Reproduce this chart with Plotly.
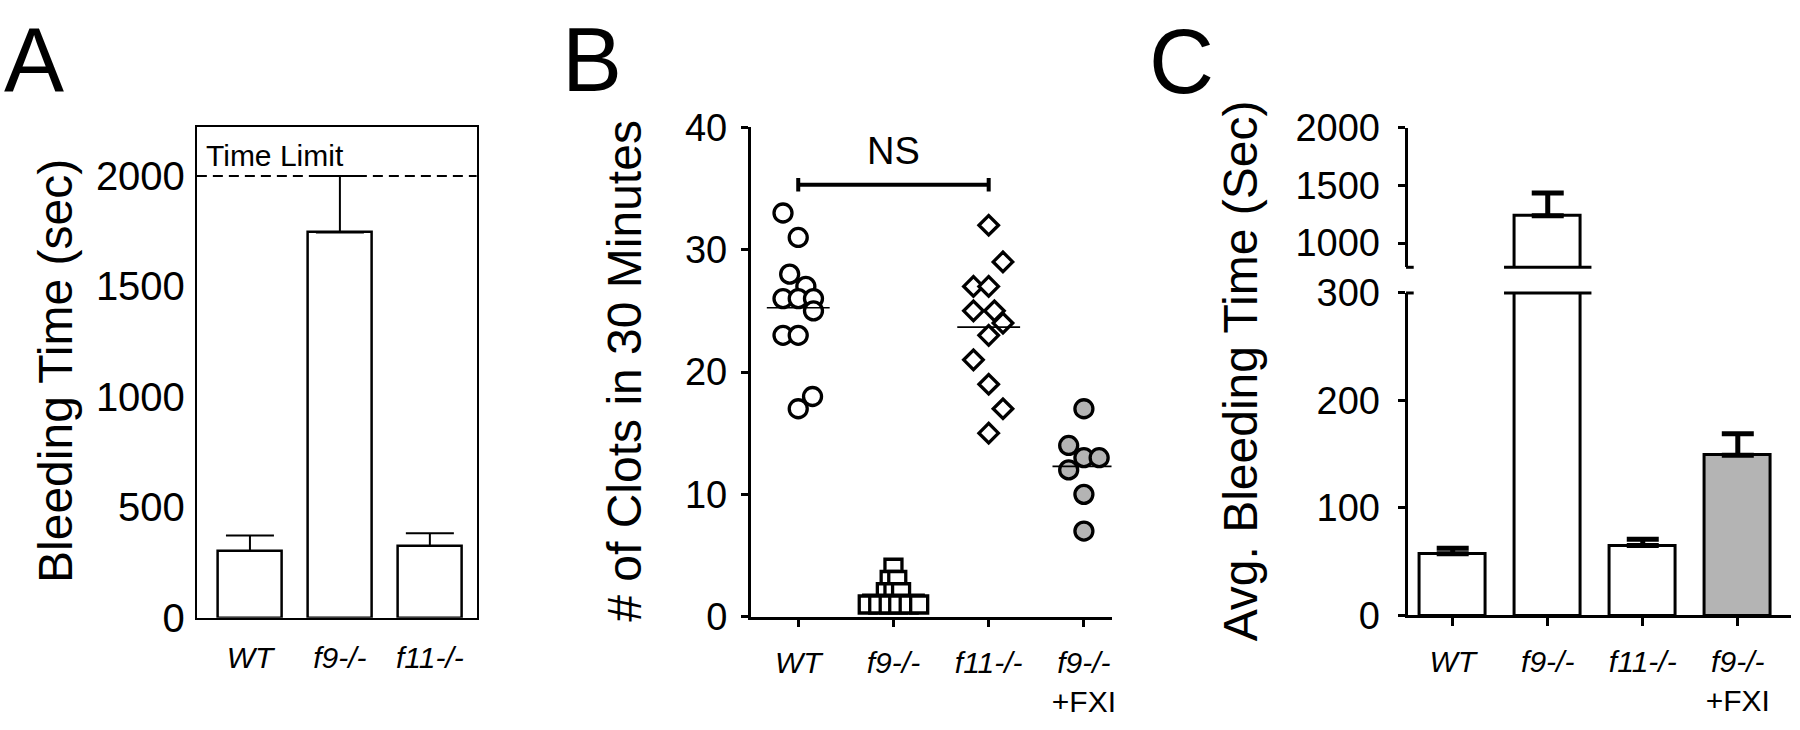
import plotly.graph_objects as go
import numpy as np

W, H = 1800, 730
FONT = "Liberation Sans, Arial, Helvetica, sans-serif"

# ---------------- data ----------------
# Panel A: bleeding time (sec)
a_groups = ["<i>WT</i>", "<i>f9-/-</i>", "<i>f11-/-</i>"]
a_means = [302, 1745, 324]
a_sem = [70, 255, 58]
a_time_limit = 2000
a_yticks = [0, 500, 1000, 1500, 2000]

# Panel B: number of clots in 30 minutes (individual animals)
b_groups = ["<i>WT</i>", "<i>f9-/-</i>", "<i>f11-/-</i>", "<i>f9-/-</i><br>+FXI"]
b_wt = [33, 31, 28, 27, 26, 26, 26, 25, 23, 23, 18, 17]
b_wt_jitter = [-0.16, 0.0, -0.09, 0.08, -0.16, 0.0, 0.16, 0.16, -0.16, 0.0, 0.15, 0.0]
b_f9 = [4, 3, 3, 2, 2, 2, 1, 1, 1, 1, 1, 1]
b_f9_jitter = [0.0, -0.04, 0.04, -0.08, 0.0, 0.08, -0.27, -0.16, -0.05, 0.05, 0.16, 0.27]
b_f11 = [32, 29, 27, 27, 25, 25, 24, 23, 21, 19, 17, 15]
b_f11_jitter = [0.0, 0.15, -0.16, 0.0, -0.16, 0.06, 0.15, 0.0, -0.16, 0.0, 0.15, 0.0]
b_fxi = [17, 14, 13, 13, 12, 10, 7]
b_fxi_jitter = [0.0, -0.16, 0.0, 0.16, -0.16, 0.0, 0.0]
b_yticks = [0, 10, 20, 30, 40]
b_ns_y = 35.3
b_ns_text = "NS"

# Panel C: average bleeding time (Sec), broken axis
c_groups = ["<i>WT</i>", "<i>f9-/-</i>", "<i>f11-/-</i>", "<i>f9-/-</i><br>+FXI"]
c_means = [57.5, 1236, 65, 149]
c_sem = [5, 198, 6, 20]
c_low_ticks = [0, 100, 200, 300]
c_up_ticks = [1000, 1500, 2000]
c_low_max = 300
c_up_min = 790
c_up_max = 2000

GRAY = "#b4b4b4"

# ---------------- layout helpers (pixel -> paper) ----------------
def px(p):
    return p / W

def py(p):
    return 1 - p / H

fig = go.Figure()

# ---------- Panel A ----------
fig.add_trace(go.Bar(
    x=list(range(len(a_means))), y=a_means, width=0.715,
    marker=dict(color="white", line=dict(color="black", width=2.5)),
    error_y=dict(type="data", symmetric=False, array=a_sem,
                 arrayminus=[0] * len(a_sem), color="black", thickness=2, width=24),
    xaxis="x", yaxis="y", hoverinfo="skip"))

# ---------- Panel B ----------
b_sets = [
    (b_wt, b_wt_jitter, "circle", "white", 18),
    (b_f9, b_f9_jitter, "square", "white", 17),
    (b_f11, b_f11_jitter, "diamond", "white", 15),
    (b_fxi, b_fxi_jitter, "circle", GRAY, 18),
]
for i, (vals, jit, sym, col, size) in enumerate(b_sets):
    fig.add_trace(go.Scatter(
        x=[i + j for j in jit], y=vals, mode="markers",
        marker=dict(symbol=sym, size=size, color=col, line=dict(color="black", width=3.3)),
        xaxis="x2", yaxis="y2", hoverinfo="skip"))
    m = float(np.mean(vals))
    fig.add_trace(go.Scatter(
        x=[i - 0.33, i + 0.33], y=[m, m], mode="lines",
        line=dict(color="black", width=1.6),
        xaxis="x2", yaxis="y2", hoverinfo="skip"))

# NS bracket between WT (0) and f11 (2)
cap = 0.55
fig.add_trace(go.Scatter(
    x=[0, 0, None, 0, 2, None, 2, 2],
    y=[b_ns_y - cap, b_ns_y + cap, None, b_ns_y, b_ns_y, None, b_ns_y - cap, b_ns_y + cap],
    mode="lines", line=dict(color="black", width=4),
    xaxis="x2", yaxis="y2", hoverinfo="skip"))

# ---------- Panel C ----------
c_colors = ["white", "white", "white", GRAY]
low_err = [e if v <= c_low_max else 0 for v, e in zip(c_means, c_sem)]
fig.add_trace(go.Bar(
    x=list(range(len(c_means))), y=c_means, width=0.69,
    marker=dict(color=c_colors, line=dict(color="black", width=3)),
    error_y=dict(type="data", symmetric=False, array=low_err,
                 arrayminus=[0] * len(c_sem), color="black", thickness=5, width=16),
    xaxis="x3", yaxis="y3", hoverinfo="skip"))
up_idx = [i for i, v in enumerate(c_means) if v > c_low_max]
fig.add_trace(go.Bar(
    x=up_idx, y=[c_means[i] for i in up_idx], width=0.69,
    marker=dict(color=[c_colors[i] for i in up_idx], line=dict(color="black", width=3)),
    error_y=dict(type="data", symmetric=False, array=[c_sem[i] for i in up_idx],
                 arrayminus=[0] * len(up_idx), color="black", thickness=5, width=16),
    xaxis="x3", yaxis="y4", hoverinfo="skip"))

# ---------------- axes ----------------
tickfont_a = dict(family=FONT, size=40, color="black")
tickfont = dict(family=FONT, size=38, color="black")
xlabfont = dict(family=FONT, size=30, color="black")

A_X = [197.3, 477.7]
A_Y = [634, 112.7]
B_X = [752.3, 1114]
B_Y = [633, 113]
C_X = [1410.7, 1795]
C_YL = [631.7, 289]
C_YU = [261.7, 113.3]

common = dict(showgrid=False, zeroline=False, showline=True, linecolor="black")

fig.update_layout(
    width=W, height=H, margin=dict(l=0, r=0, t=0, b=0),
    paper_bgcolor="white", plot_bgcolor="white", showlegend=False,
    font=dict(family=FONT, color="black"),
    bargap=0,
    xaxis=dict(domain=[px(A_X[0]), px(A_X[1])], range=[-0.59, 2.52], anchor="y",
               mirror=True, linewidth=2, ticks="", tickvals=list(range(3)),
               ticktext=a_groups, tickfont=xlabfont, ticklabelstandoff=12, **common),
    yaxis=dict(domain=[py(A_Y[0]), py(A_Y[1])], range=[0, 2222], anchor="x",
               mirror=True, linewidth=2, ticks="", tickvals=a_yticks,
               tickfont=tickfont_a, ticklabelstandoff=2, **common),
    xaxis2=dict(domain=[px(B_X[0]), px(B_X[1])], range=[-0.5, 3.29], anchor="y2",
                linewidth=2.5, ticks="outside", ticklen=8, tickwidth=2.5, tickcolor="black",
                tickvals=list(range(4)), ticktext=b_groups, tickfont=xlabfont,
                ticklabelstandoff=10, **common),
    yaxis2=dict(domain=[py(B_Y[0]), py(B_Y[1])], range=[0, 40], anchor="x2",
                linewidth=2.5, ticks="outside", ticklen=7, tickwidth=2.5, tickcolor="black",
                tickvals=b_yticks, tickfont=tickfont, ticklabelstandoff=6, **common),
    xaxis3=dict(domain=[px(C_X[0]), px(C_X[1])], range=[-0.475, 3.56], anchor="y3",
                linewidth=3, ticks="outside", ticklen=8, tickwidth=3, tickcolor="black",
                tickvals=list(range(4)), ticktext=c_groups, tickfont=xlabfont,
                ticklabelstandoff=10, **common),
    yaxis3=dict(domain=[py(C_YL[0]), py(C_YL[1])], range=[0, c_low_max], anchor="x3",
                linewidth=3, ticks="outside", ticklen=7, tickwidth=3, tickcolor="black",
                tickvals=c_low_ticks, tickfont=tickfont, ticklabelstandoff=10, **common),
    yaxis4=dict(domain=[py(C_YU[0]), py(C_YU[1])], range=[c_up_min, c_up_max], anchor="x3",
                linewidth=3, ticks="outside", ticklen=7, tickwidth=3, tickcolor="black",
                tickvals=c_up_ticks, tickfont=tickfont, ticklabelstandoff=10, **common),
)

# ---------------- shapes ----------------
shapes = [
    dict(type="line", xref="x domain", x0=0, x1=1, yref="y", y0=a_time_limit, y1=a_time_limit,
         line=dict(color="black", width=2, dash="10px,6px"), layer="above"),
]
for yref, yv in (("y4 domain", 0), ("y3 domain", 1)):
    shapes.append(dict(type="line", xref="x3 domain", x0=-0.004, x1=0.016,
                       yref=yref, y0=yv, y1=yv, line=dict(color="black", width=3)))
    for i in up_idx:
        shapes.append(dict(type="line", xref="x3", x0=i - 0.46, x1=i + 0.46,
                           yref=yref, y0=yv, y1=yv, line=dict(color="black", width=3)))
fig.update_layout(shapes=shapes)

# ---------------- annotations ----------------
ann = []
for letter, xl, yc in (("A", 2, 41), ("B", 561, 41), ("C", 1150, 44)):
    ann.append(dict(text=letter, xref="paper", yref="paper", x=px(xl), y=py(yc),
                    xanchor="left", yanchor="middle", showarrow=False,
                    font=dict(family=FONT, size=90, color="black")))
for title, xc in (("Bleeding Time (sec)", 55), ("# of Clots in 30 Minutes", 625),
                  ("Avg. Bleeding Time (Sec)", 1243)):
    ann.append(dict(text=title, xref="paper", yref="paper", x=px(xc), y=py(372),
                    xanchor="center", yanchor="middle", textangle=-90, showarrow=False,
                    font=dict(family=FONT, size=48, color="black")))
ann.append(dict(text="Time Limit", xref="paper", yref="paper", x=px(204), y=py(143),
                xanchor="left", yanchor="middle", showarrow=False,
                font=dict(family=FONT, size=30, color="black")))
ann.append(dict(text=b_ns_text, xref="x2", yref="y2", x=1, y=38.1,
                xanchor="center", yanchor="middle", showarrow=False,
                font=dict(family=FONT, size=38, color="black")))
fig.update_layout(annotations=ann)

fig.write_html("out.html", config={"displayModeBar": False},
               post_script="document.body.style.margin='0';document.body.style.overflow='hidden';")
